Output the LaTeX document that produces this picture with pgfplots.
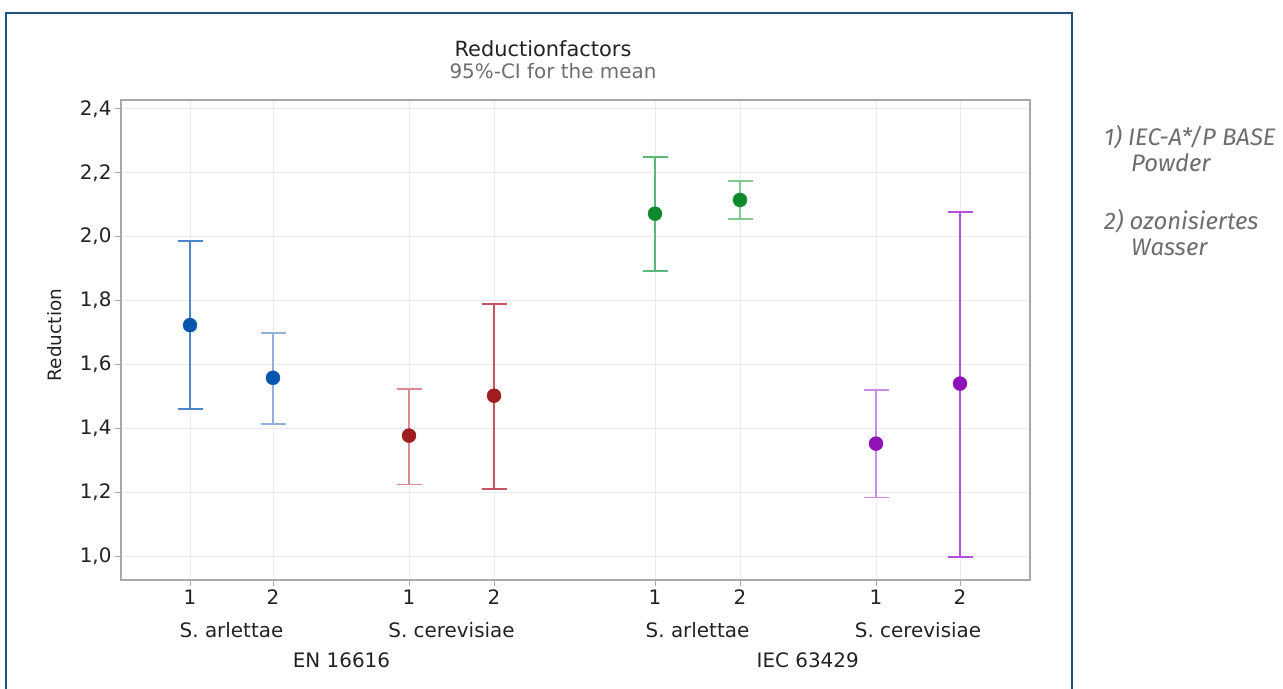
\documentclass[border=0pt]{standalone}
\usepackage{fontspec}
\setmainfont{DejaVu Sans}
\newfontfamily\notefont{Fira Sans}
\usepackage{pgfplots}
\pgfplotsset{compat=1.18}
\definecolor{framecol}{HTML}{234F85}
\definecolor{gridcol}{HTML}{EBEBEB}
\definecolor{axcol}{HTML}{A8A8A8}
\definecolor{tickcol}{HTML}{222222}
\definecolor{subcol}{HTML}{6E6E6E}
\definecolor{notecol}{HTML}{6D6D6D}
\definecolor{bluedot}{HTML}{0756AE}
\definecolor{blueA}{HTML}{4A86C8}
\definecolor{blueB}{HTML}{92B1D8}
\definecolor{reddot}{HTML}{9E1B1E}
\definecolor{redA}{HTML}{D98A92}
\definecolor{redB}{HTML}{C45560}
\definecolor{greendot}{HTML}{0D8A2B}
\definecolor{greenA}{HTML}{5CB87A}
\definecolor{greenB}{HTML}{80CC98}
\definecolor{purpdot}{HTML}{8E12B8}
\definecolor{purpA}{HTML}{CC8CE0}
\definecolor{purpB}{HTML}{B54FD8}
\pgfplotsset{
  ci/.style n args={2}{only marks, mark=*, mark size=7bp, color=#1,
    error bars/.cd, y dir=both, y explicit,
    error bar style={line width=1.7bp, color=#2},
    error mark options={rotate=90, mark size=12.5bp, line width=1.7bp, color=#2}}
}
\begin{document}
\begin{tikzpicture}[x=1bp,y=1bp]
\path[use as bounding box] (0,0) rectangle (1283,689);
\draw[framecol, line width=1.5bp] (6,-5) -- (6,676) -- (1072,676) -- (1072,-5);
\node[font=\fontsize{21}{25}\selectfont, text=tickcol] at (543,640) {Reductionfactors};
\node[font=\fontsize{20}{24}\selectfont, text=subcol] at (553,618) {95\%-CI for the mean};
\node[font=\fontsize{18.5}{22}\selectfont, text=tickcol, rotate=90] at (55,354) {Reduction};
\begin{axis}[
  at={(121bp,109bp)}, anchor=south west, scale only axis,
  width=909bp, height=480bp,
  xmin=1.21, xmax=10.30, ymin=0.925, ymax=2.428,
  xtick={1.90,2.73,4.09,4.94,6.55,7.40,8.76,9.60},
  xticklabels={1,2,1,2,1,2,1,2},
  ytick={1.0,1.2,1.4,1.6,1.8,2.0,2.2,2.4},
  /pgf/number format/.cd, fixed, fixed zerofill, precision=1, use comma, assume math mode=true, /pgfplots/.cd,
  tick label style={font=\fontsize{20}{24}\selectfont, text=tickcol},
  grid=major, major grid style={color=gridcol, line width=1bp},
  axis line style={color=axcol, line width=1.5bp},
  tick style={color=axcol, line width=1bp},
  tick align=outside, major tick length=6bp,
  xtick pos=bottom, ytick pos=left,
  clip=false,
]
\addplot[ci={bluedot}{blueA}] coordinates {(1.90,1.723) += (0,0.264) -= (0,0.262)};
\addplot[ci={bluedot}{blueB}] coordinates {(2.73,1.558) += (0,0.141) -= (0,0.144)};
\addplot[ci={reddot}{redA}] coordinates {(4.09,1.377) += (0,0.147) -= (0,0.153)};
\addplot[ci={reddot}{redB}] coordinates {(4.94,1.502) += (0,0.288) -= (0,0.291)};
\addplot[ci={greendot}{greenA}] coordinates {(6.55,2.072) += (0,0.178) -= (0,0.179)};
\addplot[ci={greendot}{greenB}] coordinates {(7.40,2.115) += (0,0.060) -= (0,0.059)};
\addplot[ci={purpdot}{purpA}] coordinates {(8.76,1.352) += (0,0.169) -= (0,0.169)};
\addplot[ci={purpdot}{purpB}] coordinates {(9.60,1.540) += (0,0.538) -= (0,0.542)};
\end{axis}
\begin{scope}[font=\fontsize{20}{24}\selectfont, text=tickcol]
\node at (231.5,59) {S. arlettae};
\node at (451.5,59) {S. cerevisiae};
\node at (697.5,59) {S. arlettae};
\node at (918,59) {S. cerevisiae};
\node at (341.5,29) {EN 16616};
\node at (807.75,29) {IEC 63429};
\end{scope}
\begin{scope}[font=\notefont\itshape\fontsize{24}{28}\selectfont, text=notecol]
\node[anchor=base west, inner sep=0] at (1104,543) {1) IEC-A*/P BASE};
\node[anchor=base west, inner sep=0] at (1131,517) {Powder};
\node[anchor=base west, inner sep=0] at (1104,459) {2) ozonisiertes};
\node[anchor=base west, inner sep=0] at (1131,433) {Wasser};
\end{scope}
\end{tikzpicture}
\end{document}
